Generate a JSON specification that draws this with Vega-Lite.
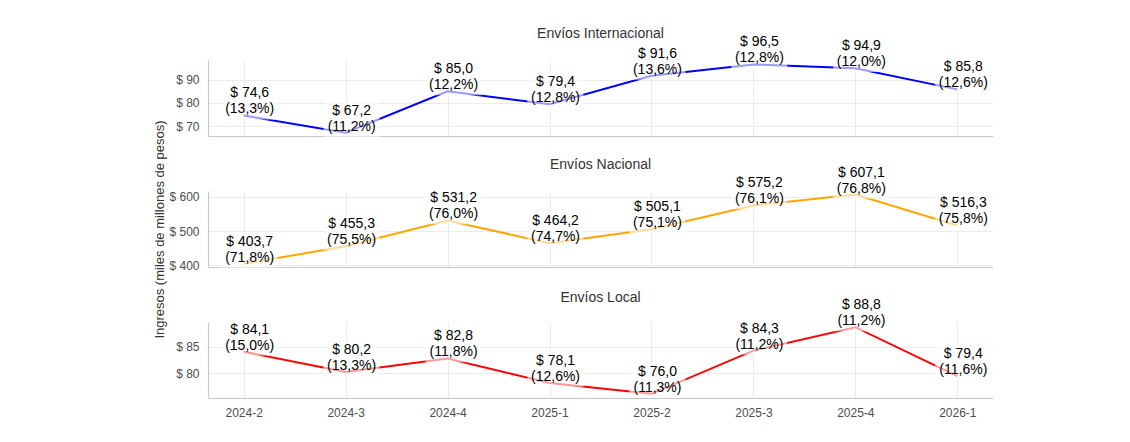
{
  "$schema": "https://vega.github.io/schema/vega-lite/v6.json",
  "background": "white",
  "padding": {"left": 153, "top": 27, "right": 0, "bottom": 0},
  "autosize": {"type": "pad"},
  "bounds": "flush",
  "spacing": 55,
  "config": {
    "font": "Liberation Sans",
    "view": {"stroke": null},
    "axis": {
      "domainColor": "#c8c8c8",
      "domainWidth": 1.2,
      "gridColor": "#ebebeb",
      "gridWidth": 1,
      "ticks": false,
      "tickSize": 0,
      "labelColor": "#4d4d4d",
      "labelFontSize": 12,
      "labelFont": "Liberation Sans",
      "titleFont": "Liberation Sans",
      "titleFontWeight": "normal",
      "titleColor": "#333333",
      "titleFontSize": 13
    },
    "title": {"font": "Liberation Sans", "fontSize": 14, "fontWeight": "normal", "color": "#333333", "anchor": "middle", "frame": "group"}
  },
  "datasets": {
    "ingresos": [
      {"serie": "Internacional", "periodo": "2024-2", "valor": 74.6, "etiqueta": "$ 74,6\n(13,3%)"},
      {"serie": "Internacional", "periodo": "2024-3", "valor": 67.2, "etiqueta": "$ 67,2\n(11,2%)"},
      {"serie": "Internacional", "periodo": "2024-4", "valor": 85.0, "etiqueta": "$ 85,0\n(12,2%)"},
      {"serie": "Internacional", "periodo": "2025-1", "valor": 79.4, "etiqueta": "$ 79,4\n(12,8%)"},
      {"serie": "Internacional", "periodo": "2025-2", "valor": 91.6, "etiqueta": "$ 91,6\n(13,6%)"},
      {"serie": "Internacional", "periodo": "2025-3", "valor": 96.5, "etiqueta": "$ 96,5\n(12,8%)"},
      {"serie": "Internacional", "periodo": "2025-4", "valor": 94.9, "etiqueta": "$ 94,9\n(12,0%)"},
      {"serie": "Internacional", "periodo": "2026-1", "valor": 85.8, "etiqueta": "$ 85,8\n(12,6%)"},
      {"serie": "Nacional", "periodo": "2024-2", "valor": 403.7, "etiqueta": "$ 403,7\n(71,8%)"},
      {"serie": "Nacional", "periodo": "2024-3", "valor": 455.3, "etiqueta": "$ 455,3\n(75,5%)"},
      {"serie": "Nacional", "periodo": "2024-4", "valor": 531.2, "etiqueta": "$ 531,2\n(76,0%)"},
      {"serie": "Nacional", "periodo": "2025-1", "valor": 464.2, "etiqueta": "$ 464,2\n(74,7%)"},
      {"serie": "Nacional", "periodo": "2025-2", "valor": 505.1, "etiqueta": "$ 505,1\n(75,1%)"},
      {"serie": "Nacional", "periodo": "2025-3", "valor": 575.2, "etiqueta": "$ 575,2\n(76,1%)"},
      {"serie": "Nacional", "periodo": "2025-4", "valor": 607.1, "etiqueta": "$ 607,1\n(76,8%)"},
      {"serie": "Nacional", "periodo": "2026-1", "valor": 516.3, "etiqueta": "$ 516,3\n(75,8%)"},
      {"serie": "Local", "periodo": "2024-2", "valor": 84.1, "etiqueta": "$ 84,1\n(15,0%)"},
      {"serie": "Local", "periodo": "2024-3", "valor": 80.2, "etiqueta": "$ 80,2\n(13,3%)"},
      {"serie": "Local", "periodo": "2024-4", "valor": 82.8, "etiqueta": "$ 82,8\n(11,8%)"},
      {"serie": "Local", "periodo": "2025-1", "valor": 78.1, "etiqueta": "$ 78,1\n(12,6%)"},
      {"serie": "Local", "periodo": "2025-2", "valor": 76.0, "etiqueta": "$ 76,0\n(11,3%)"},
      {"serie": "Local", "periodo": "2025-3", "valor": 84.3, "etiqueta": "$ 84,3\n(11,2%)"},
      {"serie": "Local", "periodo": "2025-4", "valor": 88.8, "etiqueta": "$ 88,8\n(11,2%)"},
      {"serie": "Local", "periodo": "2026-1", "valor": 79.4, "etiqueta": "$ 79,4\n(11,6%)"}
    ]
  },
  "vconcat": [
    {
      "title": {"text": "Envíos Internacional", "offset": -8},
      "width": 785,
      "height": 76,
      "data": {"name": "ingresos"},
      "transform": [{"filter": "datum.serie === 'Internacional'"}],
      "encoding": {
        "x": {"field": "periodo", "type": "ordinal", "sort": null, "scale": {"type": "point", "padding": 0.35},
              "axis": {"labels": false, "title": null, "grid": true, "domain": true}},
        "y": {"field": "valor", "type": "quantitative", "scale": {"domain": [65.8, 98.4], "zero": false, "nice": false},
              "axis": {"values": [70, 80, 90], "labelExpr": "'$ ' + datum.value", "labelPadding": 9, "title": null, "grid": true}}
      },
      "layer": [
        {"mark": {"type": "line", "color": "#0000ff", "strokeWidth": 2}},
        {"mark": {"type": "point", "shape": "M-0.79,0.14L1.21,0.14L1.21,-1.11L-0.79,-1.11Z", "size": 3136, "filled": true, "fill": "white", "fillOpacity": 0.6, "strokeWidth": 0, "opacity": 1}},
        {"mark": {"type": "text", "fontSize": 14, "color": "black", "baseline": "bottom", "align": "center", "lineBreak": "\n", "lineHeight": 16, "dx": 6, "dy": -15}, "encoding": {"text": {"field": "etiqueta"}}}
      ]
    },
    {
      "title": {"text": "Envíos Nacional", "offset": -52},
      "width": 785,
      "height": 76,
      "data": {"name": "ingresos"},
      "transform": [{"filter": "datum.serie === 'Nacional'"}],
      "encoding": {
        "x": {"field": "periodo", "type": "ordinal", "sort": null, "scale": {"type": "point", "padding": 0.35},
              "axis": {"labels": false, "title": null, "grid": true, "domain": true}},
        "y": {"field": "valor", "type": "quantitative", "scale": {"domain": [394.5, 617.5], "zero": false, "nice": false},
              "axis": {"values": [400, 500, 600], "labelExpr": "'$ ' + datum.value", "labelPadding": 9, "title": "Ingresos (miles de millones de pesos)", "titlePadding": 2, "grid": true}}
      },
      "layer": [
        {"mark": {"type": "line", "color": "#ffa500", "strokeWidth": 2}},
        {"mark": {"type": "point", "shape": "M-0.79,0.14L1.21,0.14L1.21,-1.11L-0.79,-1.11Z", "size": 3136, "filled": true, "fill": "white", "fillOpacity": 0.6, "strokeWidth": 0, "opacity": 1}},
        {"mark": {"type": "text", "fontSize": 14, "color": "black", "baseline": "bottom", "align": "center", "lineBreak": "\n", "lineHeight": 16, "dx": 6, "dy": -15}, "encoding": {"text": {"field": "etiqueta"}}}
      ]
    },
    {
      "title": {"text": "Envíos Local", "offset": -9},
      "width": 785,
      "height": 76,
      "data": {"name": "ingresos"},
      "transform": [{"filter": "datum.serie === 'Local'"}],
      "encoding": {
        "x": {"field": "periodo", "type": "ordinal", "sort": null, "scale": {"type": "point", "padding": 0.35},
              "axis": {"labels": true, "labelPadding": 9, "labelAngle": 0, "title": null, "grid": true, "domain": true}},
        "y": {"field": "valor", "type": "quantitative", "scale": {"domain": [75.2, 89.8], "zero": false, "nice": false},
              "axis": {"values": [80, 85], "labelExpr": "'$ ' + datum.value", "labelPadding": 9, "title": null, "grid": true}}
      },
      "layer": [
        {"mark": {"type": "line", "color": "#ff0000", "strokeWidth": 2}},
        {"mark": {"type": "point", "shape": "M-0.79,0.14L1.21,0.14L1.21,-1.11L-0.79,-1.11Z", "size": 3136, "filled": true, "fill": "white", "fillOpacity": 0.6, "strokeWidth": 0, "opacity": 1}},
        {"mark": {"type": "text", "fontSize": 14, "color": "black", "baseline": "bottom", "align": "center", "lineBreak": "\n", "lineHeight": 16, "dx": 6, "dy": -15}, "encoding": {"text": {"field": "etiqueta"}}}
      ]
    }
  ]
}
